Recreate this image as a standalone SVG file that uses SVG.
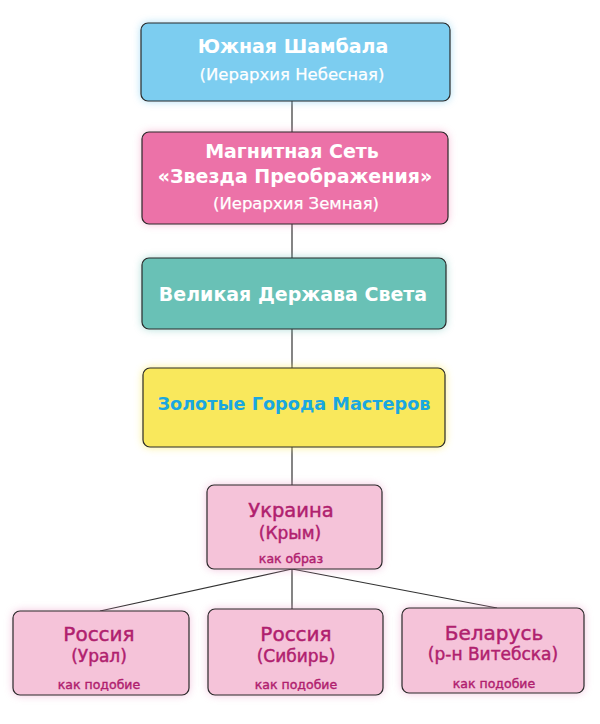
<svg xmlns="http://www.w3.org/2000/svg" width="600" height="724" viewBox="0 0 600 724">
<style>
.box{stroke:#2a2a2a;stroke-width:1.2}
.glow{filter:url(#blur)}
.w{fill:#ffffff;font-family:"DejaVu Sans","Liberation Sans",sans-serif;text-anchor:middle}
.b{font-weight:bold}
.p{fill:#b0206e;stroke:#b0206e;stroke-width:0.45;font-family:"DejaVu Sans","Liberation Sans",sans-serif;text-anchor:middle}
.s{stroke-width:0.4}
.conn line{stroke:#333333;stroke-width:1.2}
</style>
<defs>
<filter id="blur" x="-20%" y="-40%" width="140%" height="180%"><feGaussianBlur stdDeviation="4"/></filter>
</defs>
<rect width="600" height="724" fill="#ffffff"/>
<g id="connectors" class="conn">
<line x1="292" y1="101" x2="292" y2="132"/>
<line x1="292" y1="224" x2="292" y2="258"/>
<line x1="292" y1="329" x2="292" y2="368"/>
<line x1="292" y1="447" x2="292" y2="485"/>
<line x1="292" y1="569" x2="100" y2="611"/>
<line x1="292" y1="569" x2="292" y2="609"/>
<line x1="292" y1="569" x2="497" y2="608"/>
</g>
<g id="n1">
<rect class="glow" x="141" y="23" width="309" height="78" rx="7" fill="#7ccdf0" opacity="0.7"/>
<rect class="box" x="141" y="23" width="309" height="78" rx="7" fill="#7ccdf0"/>
<text class="w b" x="293" y="53" font-size="19">Южная Шамбала</text>
<text class="w" x="292" y="80" font-size="16.5" stroke="#ffffff" stroke-width="0.25">(Иерархия Небесная)</text>
</g>
<g id="n2">
<rect class="glow" x="142" y="132" width="306" height="92" rx="7" fill="#ec72a8" opacity="0.5"/>
<rect class="box" x="142" y="132" width="306" height="92" rx="7" fill="#ec72a8"/>
<text class="w b" x="292" y="158" font-size="19">Магнитная Сеть</text>
<text class="w b" x="295" y="183" font-size="19">«Звезда Преображения»</text>
<text class="w" x="296" y="209" font-size="16.5" stroke="#ffffff" stroke-width="0.25">(Иерархия Земная)</text>
</g>
<g id="n3">
<rect class="glow" x="142" y="258" width="304" height="71" rx="7" fill="#69c1b6" opacity="0.6"/>
<rect class="box" x="142" y="258" width="304" height="71" rx="7" fill="#69c1b6"/>
<text class="w b" x="293" y="301" font-size="19">Великая Держава Света</text>
</g>
<g id="n4">
<rect class="glow" x="143" y="368" width="302" height="79" rx="7" fill="#f9e85c" opacity="0.8"/>
<rect class="box" x="143" y="368" width="302" height="79" rx="7" fill="#f9e85c"/>
<text class="b" x="294" y="410" font-size="17.7" fill="#1aa7e0" font-family="DejaVu Sans, Liberation Sans, sans-serif" text-anchor="middle">Золотые Города Мастеров</text>
</g>
<g id="n5">
<rect class="glow" x="207" y="485" width="175" height="84" rx="7" fill="#e78fc0" opacity="0.6"/>
<rect class="box" x="207" y="485" width="175" height="84" rx="7" fill="#f5c3d9"/>
<text class="p" x="291" y="517" font-size="19.5">Украина</text>
<text class="p" x="290" y="539" font-size="17">(Крым)</text>
<text class="p s" x="291" y="563" font-size="12.5">как образ</text>
</g>
<g id="n6">
<rect class="glow" x="13" y="611" width="176" height="84" rx="7" fill="#e78fc0" opacity="0.6"/>
<rect class="box" x="13" y="611" width="176" height="84" rx="7" fill="#f5c3d9"/>
<text class="p" x="99" y="641" font-size="20">Россия</text>
<text class="p" x="99" y="662" font-size="17">(Урал)</text>
<text class="p s" x="99" y="689" font-size="12.5">как подобие</text>
</g>
<g id="n7">
<rect class="glow" x="208" y="609" width="175" height="86" rx="7" fill="#e78fc0" opacity="0.6"/>
<rect class="box" x="208" y="609" width="175" height="86" rx="7" fill="#f5c3d9"/>
<text class="p" x="296" y="641" font-size="20">Россия</text>
<text class="p" x="296" y="662" font-size="17">(Сибирь)</text>
<text class="p s" x="296" y="689" font-size="12.5">как подобие</text>
</g>
<g id="n8">
<rect class="glow" x="402" y="608" width="182" height="85" rx="7" fill="#e78fc0" opacity="0.6"/>
<rect class="box" x="402" y="608" width="182" height="85" rx="7" fill="#f5c3d9"/>
<text class="p" x="494" y="640" font-size="20">Беларусь</text>
<text class="p" x="493" y="660" font-size="17">(р-н Витебска)</text>
<text class="p s" x="494" y="688" font-size="12.5">как подобие</text>
</g>
</svg>
